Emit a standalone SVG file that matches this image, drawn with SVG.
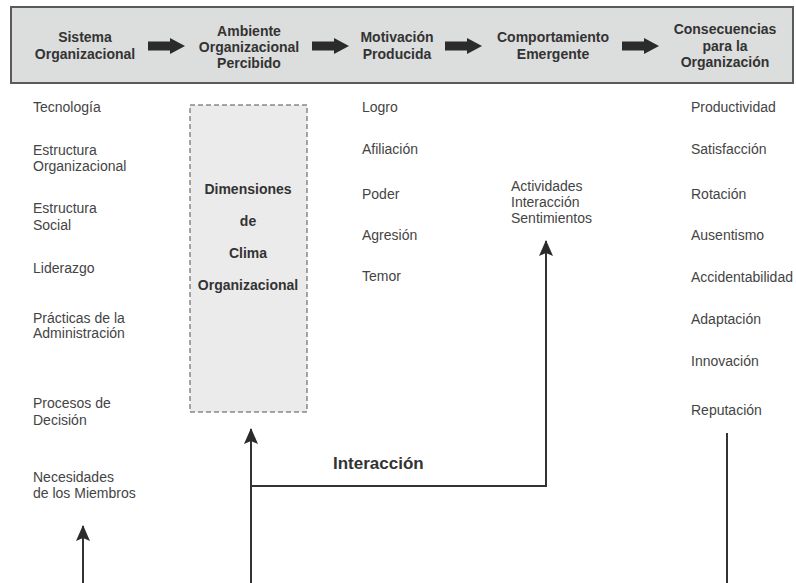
<svg xmlns="http://www.w3.org/2000/svg" width="796" height="583" viewBox="0 0 796 583">
<defs>
<style>
.hd{font-family:"Liberation Sans",Arial,sans-serif;font-size:14px;font-weight:bold;fill:#333;text-anchor:middle}
.t{font-family:"Liberation Sans",Arial,sans-serif;font-size:14px;fill:#444}
.bx{font-family:"Liberation Sans",Arial,sans-serif;font-size:14px;font-weight:bold;fill:#333;text-anchor:middle}
.lbl{font-family:"Liberation Sans",Arial,sans-serif;font-size:17px;font-weight:bold;fill:#333}
.ln{fill:none;stroke:#333;stroke-width:2}
.fat{fill:#2b2b2b}
</style>
<marker id="ah" viewBox="0 0 14 16" refX="7" refY="1" markerWidth="14" markerHeight="16" markerUnits="userSpaceOnUse" orient="0">
<path d="M7 0 L14 16 L7 13 L0 16 Z" fill="#2b2b2b"/>
</marker>
<path id="fatArrow" d="M0 -4.5 L22 -4.5 L22 -8 L37 0 L22 8 L22 4.5 L0 4.5 Z"/>
</defs>
<rect width="796" height="583" fill="#fff"/>
<g id="header">
<rect x="11" y="7" width="782" height="76" fill="#dcdddd" stroke="#5a5a5a" stroke-width="2"/>
</g>
<g id="h1"><text class="hd" x="85" y="42">Sistema</text><text class="hd" x="85" y="59">Organizacional</text></g>
<g id="h2"><text class="hd" x="249" y="36">Ambiente</text><text class="hd" x="249" y="52">Organizacional</text><text class="hd" x="249" y="68">Percibido</text></g>
<g id="h3"><text class="hd" x="397" y="42">Motivación</text><text class="hd" x="397" y="59">Producida</text></g>
<g id="h4"><text class="hd" x="553" y="42">Comportamiento</text><text class="hd" x="553" y="59">Emergente</text></g>
<g id="h5"><text class="hd" x="725" y="34">Consecuencias</text><text class="hd" x="725" y="51">para la</text><text class="hd" x="725" y="67">Organización</text></g>
<g id="sistema">
<text class="t" x="33" y="112">Tecnología</text>
<text class="t" x="33" y="155">Estructura</text><text class="t" x="33" y="171">Organizacional</text>
<text class="t" x="33" y="213">Estructura</text><text class="t" x="33" y="230">Social</text>
<text class="t" x="33" y="273">Liderazgo</text>
<text class="t" x="33" y="323">Prácticas de la</text><text class="t" x="33" y="338">Administración</text>
<text class="t" x="33" y="408">Procesos de</text><text class="t" x="33" y="425">Decisión</text>
<text class="t" x="33" y="482">Necesidades</text><text class="t" x="33" y="498">de los Miembros</text>
</g>
<g id="clima">
<rect x="190" y="105" width="117" height="307" fill="#ebebeb" stroke="#888" stroke-width="1.5" stroke-dasharray="5,3"/>
<text class="bx" x="248" y="194">Dimensiones</text>
<text class="bx" x="248" y="226">de</text>
<text class="bx" x="248" y="258">Clima</text>
<text class="bx" x="248" y="290">Organizacional</text>
</g>
<g id="motivacion">
<text class="t" x="362" y="112">Logro</text>
<text class="t" x="362" y="154">Afiliación</text>
<text class="t" x="362" y="199">Poder</text>
<text class="t" x="362" y="240">Agresión</text>
<text class="t" x="362" y="281">Temor</text>
</g>
<g id="comportamiento">
<text class="t" x="511" y="191">Actividades</text>
<text class="t" x="511" y="207">Interacción</text>
<text class="t" x="511" y="223">Sentimientos</text>
</g>
<g id="consecuencias">
<text class="t" x="691" y="112">Productividad</text>
<text class="t" x="691" y="154">Satisfacción</text>
<text class="t" x="691" y="199">Rotación</text>
<text class="t" x="691" y="240">Ausentismo</text>
<text class="t" x="691" y="282">Accidentabilidad</text>
<text class="t" x="691" y="324">Adaptación</text>
<text class="t" x="691" y="366">Innovación</text>
<text class="t" x="691" y="415">Reputación</text>
</g>
<g id="connectors">
<use href="#fatArrow" class="fat" x="148" y="46"/>
<use href="#fatArrow" class="fat" x="312" y="46"/>
<use href="#fatArrow" class="fat" x="445" y="46"/>
<use href="#fatArrow" class="fat" x="622" y="46"/>
<path class="ln" d="M83 583 V526" marker-end="url(#ah)"/>
<path class="ln" d="M251 583 V429" marker-end="url(#ah)"/>
<path class="ln" d="M251 486 H546 V241" marker-end="url(#ah)"/>
<path class="ln" d="M727 433 V583"/>
<text class="lbl" x="333" y="469">Interacción</text>
</g>
</svg>
